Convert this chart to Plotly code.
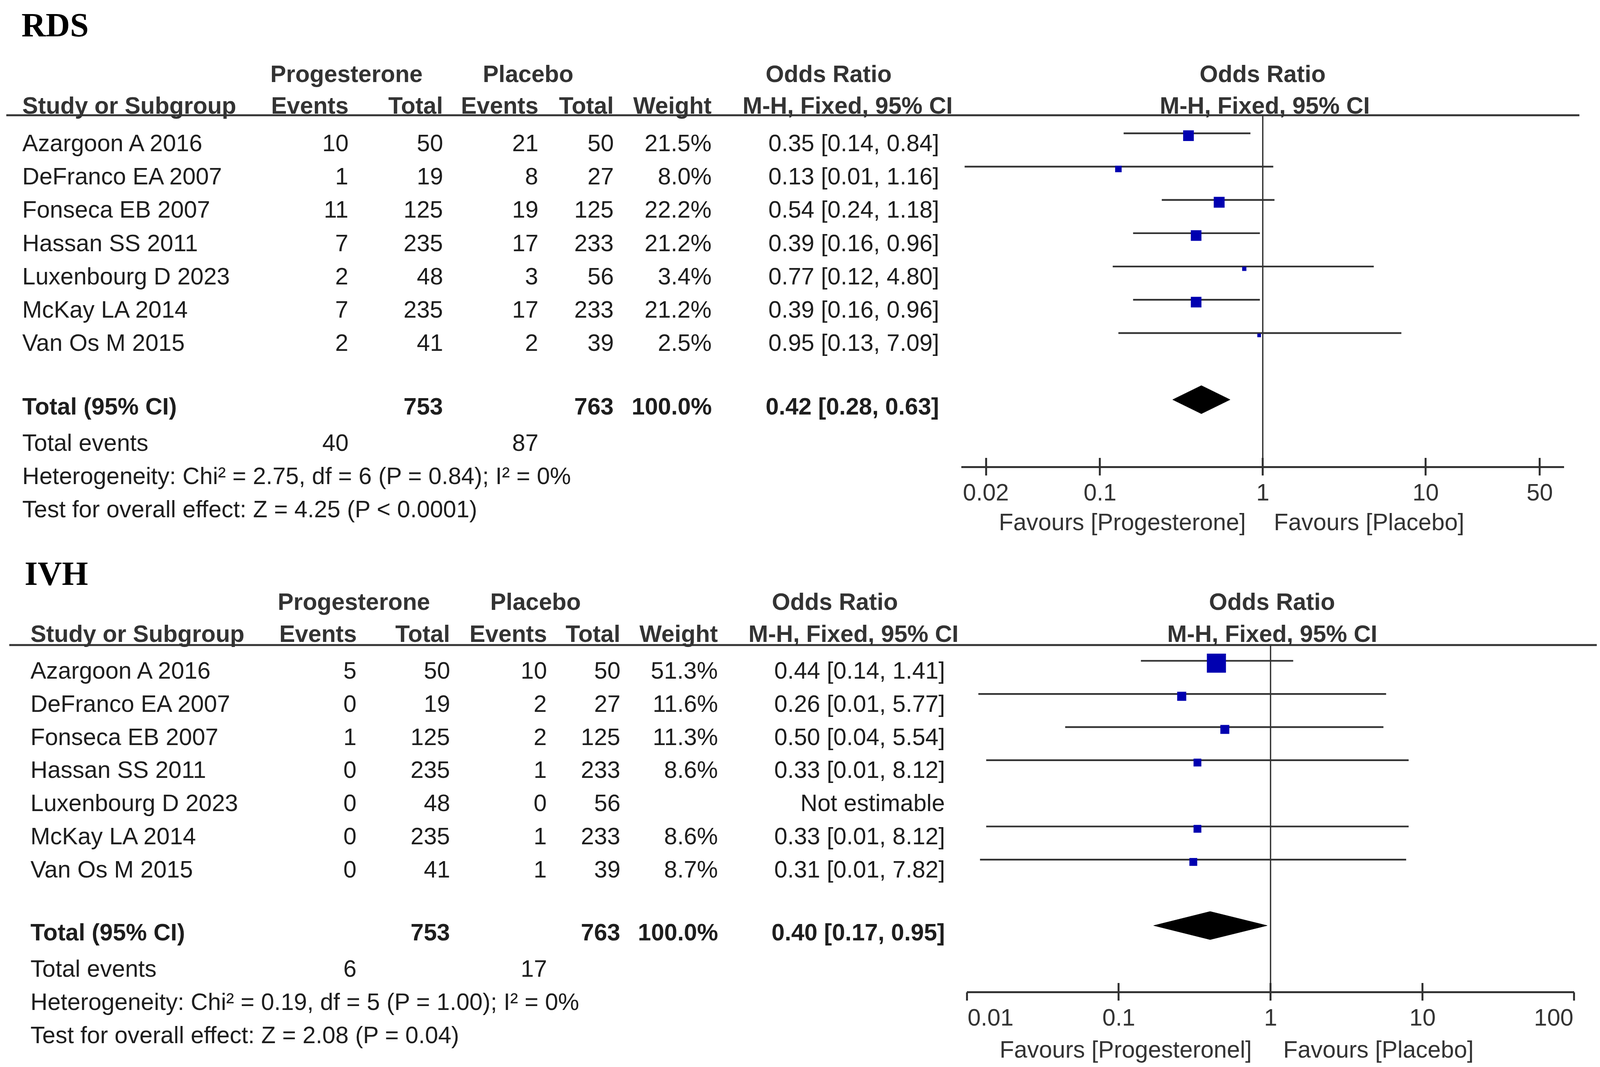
import math
import plotly.graph_objects as go

# ---------------- DATA ----------------
studies = ["Azargoon A 2016", "DeFranco EA 2007", "Fonseca EB 2007", "Hassan SS 2011",
           "Luxenbourg D 2023", "McKay LA 2014", "Van Os M 2015"]

# RDS
rds_prog_events = [10, 1, 11, 7, 2, 7, 2]
rds_prog_total = [50, 19, 125, 235, 48, 235, 41]
rds_plac_events = [21, 8, 19, 17, 3, 17, 2]
rds_plac_total = [50, 27, 125, 233, 56, 233, 39]
rds_weight = [21.5, 8.0, 22.2, 21.2, 3.4, 21.2, 2.5]
rds_or = [0.35, 0.13, 0.54, 0.39, 0.77, 0.39, 0.95]
rds_lo = [0.14, 0.0148, 0.24, 0.16, 0.12, 0.16, 0.13]
rds_hi = [0.84, 1.16, 1.18, 0.96, 4.80, 0.96, 7.09]
rds_total_n = [753, 763]
rds_total_events = [40, 87]
rds_pooled = [0.42, 0.28, 0.63]
rds_het = "Heterogeneity: Chi² = 2.75, df = 6 (P = 0.84); I² = 0%"
rds_test = "Test for overall effect: Z = 4.25 (P < 0.0001)"
rds_ticks = [0.02, 0.1, 1, 10, 50]
rds_ticktext = ["0.02", "0.1", "1", "10", "50"]

# IVH
ivh_prog_events = [5, 0, 1, 0, 0, 0, 0]
ivh_prog_total = [50, 19, 125, 235, 48, 235, 41]
ivh_plac_events = [10, 2, 2, 1, 0, 1, 1]
ivh_plac_total = [50, 27, 125, 233, 56, 233, 39]
ivh_weight = [51.3, 11.6, 11.3, 8.6, None, 8.6, 8.7]
ivh_or = [0.44, 0.26, 0.50, 0.33, None, 0.33, 0.31]
ivh_lo = [0.14, 0.0119, 0.0444, 0.0134, None, 0.0134, 0.0122]
ivh_hi = [1.41, 5.77, 5.54, 8.12, None, 8.12, 7.82]
ivh_total_n = [753, 763]
ivh_total_events = [6, 17]
ivh_pooled = [0.40, 0.17, 0.95]
ivh_het = "Heterogeneity: Chi² = 0.19, df = 5 (P = 1.00); I² = 0%"
ivh_test = "Test for overall effect: Z = 2.08 (P = 0.04)"
ivh_ticks = [0.01, 0.1, 1, 10, 100]
ivh_ticktext = ["0.01", "0.1", "1", "10", "100"]

# ---------------- STYLE / LAYOUT ----------------
# layout measured in picture pixels; converted to page pixels below
SXF = 0.948        # horizontal picture->page factor
XOFF = 8           # page body margin
YOFF = 6
W = 4080
H = 2720
SM = 0.975         # size factor for marks / lines

SANS = "Liberation Sans, Arial, sans-serif"
SERIF = "Liberation Serif, Times New Roman, serif"
TXT = "#1e1e1e"
HDR = "#333333"
LINE = "#333333"
BLUE = "#0000b0"
FS = 60.5


def FX(px):
    return min(W, max(0.0, SXF * px - XOFF))


def FY(py):
    return py - YOFF


panels = [
    dict(name="RDS", pe=rds_prog_events, pt=rds_prog_total, ce=rds_plac_events, ct=rds_plac_total,
         w=rds_weight, est=rds_or, lo=rds_lo, hi=rds_hi, tn=rds_total_n, te=rds_total_events,
         pooled=rds_pooled, het=rds_het, test=rds_test, ticks=rds_ticks, ticktext=rds_ticktext,
         tick_anchor=["center", "center", "center", "center", "center"],
         fav_left="Favours [Progesterone]", fav_right="Favours [Placebo]",
         title_y=62, title_x=56, h1=187, h2=268, hline_y=293, hline_x=(17, 4265),
         base=364, sp=85.2, total_row=7.91,
         left=58, c_ev1=943, c_tot1=1198, c_ev2=1456, c_tot2=1659, c_wt=1924, c_ci=2538,
         c_prog=936, c_plac=1426, c_or=2238, c_mh=2289,
         ax_l=2596, ax_r=4224, ax_range=1.85, ax_y=1193, lab_y=1258, fav_y=1334,
         fav_lx=3366, fav_rx=3438, f_or=3410, f_mh=3416, sq_k=6.05),
    dict(name="IVH", pe=ivh_prog_events, pt=ivh_prog_total, ce=ivh_plac_events, ct=ivh_plac_total,
         w=ivh_weight, est=ivh_or, lo=ivh_lo, hi=ivh_hi, tn=ivh_total_n, te=ivh_total_events,
         pooled=ivh_pooled, het=ivh_het, test=ivh_test, ticks=ivh_ticks, ticktext=ivh_ticktext,
         tick_anchor=["left", "center", "center", "center", "right"],
         fav_left="Favours [Progesteronel]", fav_right="Favours [Placebo]",
         title_y=1466, title_x=64, h1=1538, h2=1620, hline_y=1649, hline_x=(25, 4312),
         base=1714, sp=84.8, total_row=7.9,
         left=80, c_ev1=965, c_tot1=1217, c_ev2=1479, c_tot2=1677, c_wt=1941, c_ci=2554,
         c_prog=956, c_plac=1446, c_or=2255, c_mh=2305,
         ax_l=2611, ax_r=4251, ax_range=2.0, ax_y=2537, lab_y=2602, fav_y=2684,
         fav_lx=3383, fav_rx=3463, f_or=3435, f_mh=3436, sq_k=7.0),
]

fig = go.Figure()
annotations = []
shapes = []


def ann(text, px, py, anchor="left", size=FS, bold=False, color=TXT, family=SANS):
    if bold:
        text = "<b>" + text + "</b>"
    annotations.append(dict(text=text, x=FX(px) / W, y=1 - FY(py) / H, xref="paper", yref="paper",
                            xanchor=anchor, yanchor="middle", showarrow=False,
                            font=dict(size=size, color=color, family=family)))


def fmt_ci(e, l, h):
    return f"{e:.2f} [{l:.2f}, {h:.2f}]"


layout_axes = {}

for i, p in enumerate(panels):
    n = i + 1
    xa = "x" if n == 1 else f"x{n}"
    ya = "y" if n == 1 else f"y{n}"
    xov = f"x{n + 2}"

    def rowy(r, p=p):
        return p["base"] + p["sp"] * r

    L = p["left"]
    ann(p["name"], p["title_x"], p["title_y"], size=86, bold=True, color="#000000", family=SERIF)
    ann("Progesterone", p["c_prog"], p["h1"], "center", bold=True, color=HDR)
    ann("Placebo", p["c_plac"], p["h1"], "center", bold=True, color=HDR)
    ann("Odds Ratio", p["c_or"], p["h1"], "center", bold=True, color=HDR)
    ann("Odds Ratio", p["f_or"], p["h1"], "center", bold=True, color=HDR)
    ann("Study or Subgroup", L, p["h2"], "left", bold=True, color=HDR)
    ann("Events", p["c_ev1"], p["h2"], "right", bold=True, color=HDR)
    ann("Total", p["c_tot1"], p["h2"], "right", bold=True, color=HDR)
    ann("Events", p["c_ev2"], p["h2"], "right", bold=True, color=HDR)
    ann("Total", p["c_tot2"], p["h2"], "right", bold=True, color=HDR)
    ann("Weight", p["c_wt"], p["h2"], "right", bold=True, color=HDR)
    ann("M-H, Fixed, 95% CI", p["c_mh"], p["h2"], "center", bold=True, color=HDR)
    ann("M-H, Fixed, 95% CI", p["f_mh"], p["h2"], "center", bold=True, color=HDR)

    shapes.append(dict(type="line", xref="paper", yref="paper",
                       x0=FX(p["hline_x"][0]) / W, x1=FX(p["hline_x"][1]) / W,
                       y0=1 - FY(p["hline_y"]) / H, y1=1 - FY(p["hline_y"]) / H,
                       line=dict(color=LINE, width=5 * SM)))

    for r, s in enumerate(studies):
        y = rowy(r)
        ann(s, L, y)
        ann(str(p["pe"][r]), p["c_ev1"], y, "right")
        ann(str(p["pt"][r]), p["c_tot1"], y, "right")
        ann(str(p["ce"][r]), p["c_ev2"], y, "right")
        ann(str(p["ct"][r]), p["c_tot2"], y, "right")
        if p["w"][r] is not None:
            ann(f"{p['w'][r]:.1f}%", p["c_wt"], y, "right")
            ann(fmt_ci(p["est"][r], p["lo"][r], p["hi"][r]), p["c_ci"], y, "right")
        else:
            ann("Not estimable", p["c_ci"], y, "right")

    ty = rowy(p["total_row"])
    ann("Total (95% CI)", L, ty, bold=True)
    ann(str(p["tn"][0]), p["c_tot1"], ty, "right", bold=True)
    ann(str(p["tn"][1]), p["c_tot2"], ty, "right", bold=True)
    ann("100.0%", p["c_wt"], ty, "right", bold=True)
    ann(fmt_ci(*p["pooled"]), p["c_ci"], ty, "right", bold=True)
    ann("Total events", L, rowy(9))
    ann(str(p["te"][0]), p["c_ev1"], rowy(9), "right")
    ann(str(p["te"][1]), p["c_ev2"], rowy(9), "right")
    ann(p["het"], L, rowy(10))
    ann(p["test"], L, rowy(11))

    line_off = -0.29
    sq_off = -0.22
    lx, ly, sx, sy, ss = [], [], [], [], []
    for r in range(len(studies)):
        if p["est"][r] is None:
            continue
        lx += [p["lo"][r], p["hi"][r], None]
        ly += [r + line_off, r + line_off, None]
        sx.append(p["est"][r])
        sy.append(r + sq_off)
        ss.append(SM * p["sq_k"] * math.sqrt(p["w"][r]))
    fig.add_trace(go.Scatter(x=lx, y=ly, mode="lines", line=dict(color=LINE, width=4.5 * SM),
                             xaxis=xa, yaxis=ya, showlegend=False, hoverinfo="skip"))
    fig.add_trace(go.Scatter(x=sx, y=sy, mode="markers",
                             marker=dict(symbol="square", size=ss, color=BLUE, opacity=1,
                                         line=dict(width=0)),
                             xaxis=xa, yaxis=ya, showlegend=False, hoverinfo="skip"))
    e, l, h = p["pooled"]
    dr = p["total_row"] - 0.2
    dh = 36 / p["sp"]
    fig.add_trace(go.Scatter(x=[l, e, h, e, l], y=[dr, dr - dh, dr, dr + dh, dr],
                             mode="lines", fill="toself", fillcolor="#000000",
                             line=dict(color="#000000", width=1),
                             xaxis=xa, yaxis=ya, showlegend=False, hoverinfo="skip"))
    fig.add_trace(go.Scatter(x=[1], y=[0], mode="markers", marker=dict(opacity=0),
                             xaxis=xov, yaxis=ya, showlegend=False, hoverinfo="skip"))

    shapes.append(dict(type="line", xref=xa, yref="paper", x0=1, x1=1,
                       y0=1 - FY(p["hline_y"]) / H, y1=1 - FY(p["ax_y"]) / H,
                       line=dict(color=LINE, width=3.5 * SM)))

    for t, tt, anc in zip(p["ticks"], p["ticktext"], p["tick_anchor"]):
        annotations.append(dict(text=tt, x=math.log10(t), xref=xa, y=1 - FY(p["lab_y"]) / H,
                                yref="paper", xanchor=anc, yanchor="middle", showarrow=False,
                                font=dict(size=FS, color="#333333", family=SANS)))

    ann(p["fav_left"], p["fav_lx"], p["fav_y"], "right", color="#333333")
    ann(p["fav_right"], p["fav_rx"], p["fav_y"], "left", color="#333333")

    dom = [FX(p["ax_l"]) / W, FX(p["ax_r"]) / W]
    pos = 1 - FY(p["ax_y"]) / H
    rng = [-p["ax_range"], p["ax_range"]]
    key_x = "xaxis" if n == 1 else f"xaxis{n}"
    key_y = "yaxis" if n == 1 else f"yaxis{n}"
    layout_axes[key_x] = dict(type="log", range=rng, domain=dom, anchor="free", position=pos,
                              showline=True, linecolor=LINE, linewidth=5 * SM,
                              ticks="inside", ticklen=21, tickwidth=5 * SM, tickcolor=LINE,
                              tickvals=p["ticks"], showticklabels=False, automargin=False,
                              showgrid=False, zeroline=False, fixedrange=True)
    layout_axes[f"xaxis{n + 2}"] = dict(type="log", range=rng, domain=dom, overlaying=xa,
                                        anchor="free", position=pos, side="bottom",
                                        showline=False, ticks="outside", ticklen=21,
                                        tickwidth=5 * SM, tickcolor=LINE, tickvals=p["ticks"],
                                        showticklabels=False, automargin=False,
                                        showgrid=False, zeroline=False)
    # row index -> page pixel: FY(base + sp * r)
    ybot = (H + YOFF - p["base"]) / p["sp"]
    ytop = (0 + YOFF - p["base"]) / p["sp"]
    layout_axes[key_y] = dict(domain=[0, 1], range=[ybot, ytop], visible=False,
                              anchor="free", position=0, showgrid=False, zeroline=False,
                              automargin=False)

fig.update_layout(width=W, height=H, margin=dict(l=0, r=0, t=0, b=0, autoexpand=False),
                  paper_bgcolor="white", plot_bgcolor="rgba(0,0,0,0)",
                  showlegend=False, annotations=annotations, shapes=shapes, **layout_axes)

fig.write_html("out.html")
